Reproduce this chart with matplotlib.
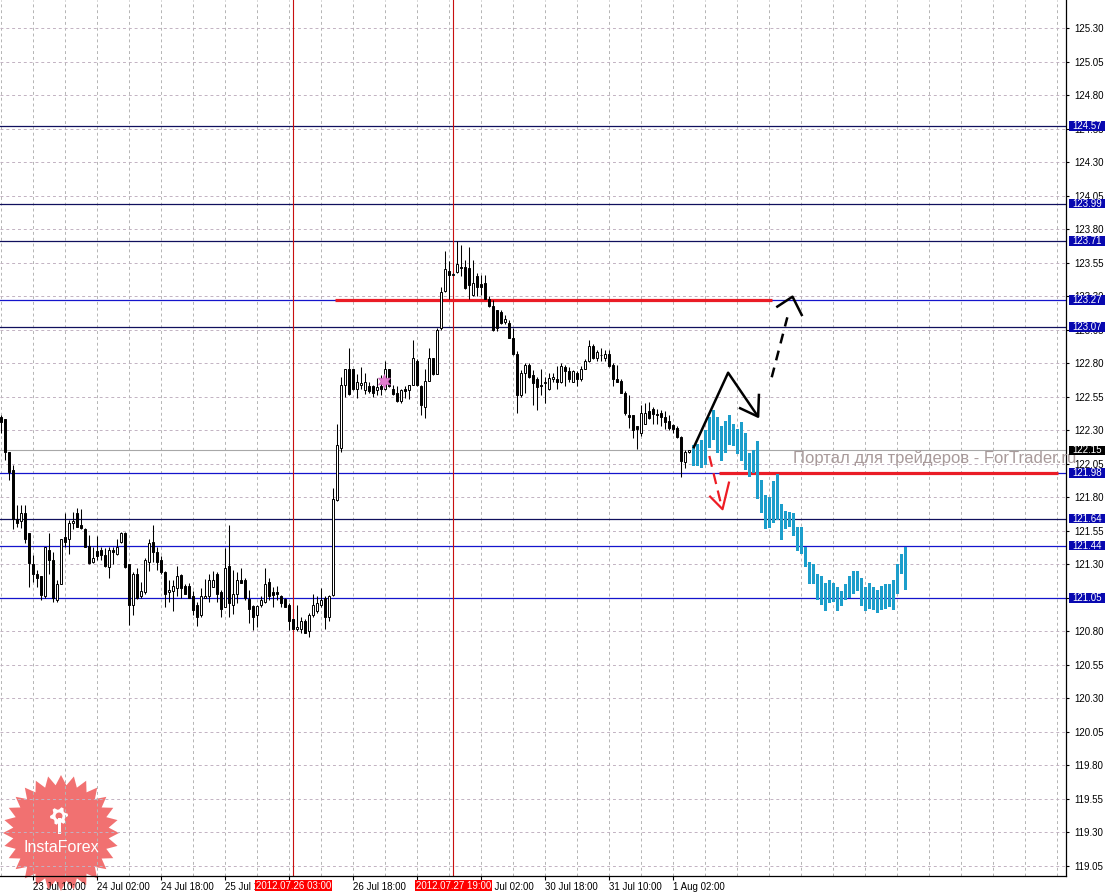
import matplotlib.pyplot as plt
import numpy as np
from matplotlib.patches import Rectangle, Polygon

plt.rcParams['font.family'] = ['Liberation Sans', 'DejaVu Sans']

# H1 candles, bar 0 = first visible bar on the left
opens = [122.40, 122.38, 122.14, 122.00, 121.64, 121.62, 121.68, 121.53, 121.30, 121.23,
         121.21, 121.06, 121.41, 121.33, 121.03, 121.15, 121.50, 121.49, 121.61, 121.68,
         121.59, 121.56, 121.44, 121.32, 121.40, 121.41, 121.37, 121.28, 121.41, 121.38,
         121.47, 121.53, 121.30, 121.00, 121.23, 121.06, 121.09, 121.32, 121.47, 121.39,
         121.33, 121.24, 121.09, 121.10, 121.12, 121.22, 121.14, 121.14, 121.06, 121.00,
         120.92, 121.05, 121.06, 121.13, 121.23, 121.09, 120.98, 121.29, 121.00, 121.08,
         121.18, 121.18, 121.04, 120.99, 120.92, 121.00, 121.02, 121.17, 121.09, 121.09,
         121.06, 121.04, 121.00, 120.89, 120.82, 120.82, 120.88, 120.80, 120.92, 120.95,
         121.00, 121.05, 120.91, 121.07, 121.78, 122.17, 122.64, 122.76, 122.76, 122.61,
         122.64, 122.60, 122.63, 122.63, 122.60, 122.63, 122.61, 122.76, 122.61, 122.58,
         122.52, 122.61, 122.60, 122.64, 122.82, 122.63, 122.47, 122.67, 122.84, 122.72,
         123.06, 123.34, 123.49, 123.46, 123.48, 123.52, 123.52, 123.51, 123.31, 123.45,
         123.39, 123.40, 123.28, 123.23, 123.20, 123.18, 123.11, 123.10, 122.99, 122.87,
         122.56, 122.73, 122.79, 122.71, 122.68, 122.64, 122.65, 122.61, 122.68, 122.68,
         122.66, 122.77, 122.74, 122.66, 122.73, 122.68, 122.76, 122.82, 122.93, 122.84,
         122.86, 122.84, 122.87, 122.79, 122.68, 122.67, 122.58, 122.41, 122.41, 122.33,
         122.28, 122.35, 122.44, 122.46, 122.42, 122.43, 122.40, 122.37, 122.34, 122.32,
         122.25, 122.06, 122.14]
highs = [122.41, 122.38, 122.14, 122.04, 121.74, 121.74, 121.74, 121.53, 121.37, 121.26,
         121.21, 121.43, 121.53, 121.39, 121.18, 121.49, 121.68, 121.63, 121.69, 121.72,
         121.71, 121.57, 121.52, 121.43, 121.51, 121.43, 121.42, 121.43, 121.43, 121.49,
         121.54, 121.54, 121.30, 121.24, 121.27, 121.17, 121.35, 121.49, 121.59, 121.43,
         121.36, 121.25, 121.18, 121.18, 121.29, 121.23, 121.15, 121.16, 121.10, 121.02,
         121.12, 121.19, 121.23, 121.25, 121.24, 121.11, 121.42, 121.59, 121.26, 121.24,
         121.27, 121.20, 121.11, 121.00, 121.00, 121.06, 121.27, 121.20, 121.13, 121.14,
         121.07, 121.05, 121.01, 120.89, 121.00, 120.91, 120.89, 120.94, 121.08, 121.06,
         121.12, 121.06, 121.07, 121.87, 122.35, 122.70, 122.76, 122.91, 122.76, 122.72,
         122.77, 122.73, 122.66, 122.64, 122.69, 122.71, 122.82, 122.76, 122.64, 122.63,
         122.61, 122.63, 122.64, 122.97, 122.83, 122.64, 122.76, 122.91, 122.84, 123.06,
         123.37, 123.64, 123.56, 123.47, 123.71, 123.68, 123.57, 123.67, 123.57, 123.47,
         123.46, 123.46, 123.30, 123.27, 123.20, 123.20, 123.16, 123.12, 123.06, 122.89,
         122.75, 122.80, 122.80, 122.75, 122.70, 122.76, 122.70, 122.73, 122.73, 122.78,
         122.80, 122.79, 122.77, 122.75, 122.74, 122.78, 122.83, 122.97, 122.94, 122.90,
         122.91, 122.90, 122.90, 122.80, 122.79, 122.68, 122.59, 122.56, 122.41, 122.33,
         122.49, 122.50, 122.51, 122.47, 122.46, 122.45, 122.44, 122.41, 122.35, 122.33,
         122.26, 122.15, 122.15]
lows = [122.28, 122.08, 121.93, 121.56, 121.58, 121.57, 121.46, 121.13, 121.17, 121.13,
        121.03, 121.05, 121.23, 121.02, 121.02, 121.15, 121.43, 121.38, 121.56, 121.58,
        121.56, 121.43, 121.30, 121.31, 121.33, 121.33, 121.28, 121.20, 121.30, 121.37,
        121.46, 121.27, 120.85, 120.92, 121.04, 121.05, 121.08, 121.25, 121.32, 121.26,
        121.23, 120.98, 121.02, 120.95, 121.06, 121.05, 121.08, 121.05, 120.92, 120.84,
        120.91, 121.05, 121.02, 121.13, 121.02, 120.91, 120.98, 120.91, 120.93, 121.01,
        121.16, 121.03, 120.86, 120.81, 120.83, 120.98, 121.01, 121.03, 120.98, 121.03,
        120.98, 120.98, 120.81, 120.82, 120.80, 120.79, 120.79, 120.76, 120.91, 120.94,
        120.98, 120.82, 120.88, 121.06, 121.77, 122.14, 122.55, 122.56, 122.60, 122.54,
        122.61, 122.57, 122.58, 122.55, 122.56, 122.56, 122.60, 122.62, 122.56, 122.51,
        122.50, 122.54, 122.53, 122.64, 122.63, 122.41, 122.39, 122.67, 122.71, 122.72,
        123.05, 123.33, 123.28, 123.46, 123.47, 123.45, 123.35, 123.28, 123.30, 123.30,
        123.31, 123.28, 123.22, 123.04, 123.04, 123.09, 123.09, 122.99, 122.86, 122.43,
        122.55, 122.58, 122.69, 122.49, 122.45, 122.56, 122.50, 122.60, 122.66, 122.61,
        122.65, 122.63, 122.66, 122.66, 122.63, 122.67, 122.76, 122.81, 122.83, 122.82,
        122.82, 122.82, 122.77, 122.63, 122.66, 122.58, 122.41, 122.32, 122.24, 122.16,
        122.26, 122.35, 122.38, 122.35, 122.35, 122.33, 122.31, 122.30, 122.28, 122.24,
        121.95, 122.02, 122.13]
closes = [122.36, 122.14, 121.99, 121.64, 121.61, 121.68, 121.49, 121.31, 121.23, 121.20,
          121.07, 121.43, 121.33, 121.05, 121.15, 121.49, 121.47, 121.61, 121.62, 121.58,
          121.57, 121.43, 121.31, 121.35, 121.36, 121.37, 121.29, 121.41, 121.39, 121.43,
          121.53, 121.28, 121.00, 121.23, 121.05, 121.10, 121.33, 121.46, 121.39, 121.32,
          121.24, 121.08, 121.11, 121.14, 121.21, 121.12, 121.08, 121.05, 120.96, 120.91,
          121.06, 121.06, 121.18, 121.18, 121.08, 120.97, 121.27, 121.01, 121.08, 121.18,
          121.16, 121.05, 120.97, 120.91, 120.99, 121.03, 121.15, 121.06, 121.07, 121.08,
          121.01, 120.98, 120.88, 120.82, 120.83, 120.88, 120.79, 120.92, 121.00, 121.01,
          121.03, 120.91, 121.06, 121.79, 122.19, 122.64, 122.76, 122.57, 122.61, 122.66,
          122.65, 122.66, 122.59, 122.58, 122.62, 122.61, 122.76, 122.63, 122.57, 122.52,
          122.60, 122.59, 122.64, 122.84, 122.64, 122.49, 122.67, 122.84, 122.72, 123.05,
          123.33, 123.50, 123.46, 123.46, 123.54, 123.51, 123.36, 123.38, 123.40, 123.37,
          123.37, 123.28, 123.23, 123.05, 123.06, 123.10, 123.13, 122.99, 122.87, 122.56,
          122.73, 122.79, 122.70, 122.65, 122.62, 122.63, 122.66, 122.69, 122.70, 122.66,
          122.78, 122.74, 122.68, 122.74, 122.68, 122.76, 122.82, 122.93, 122.84, 122.88,
          122.86, 122.87, 122.78, 122.68, 122.66, 122.58, 122.43, 122.40, 122.30, 122.31,
          122.43, 122.43, 122.39, 122.42, 122.41, 122.40, 122.36, 122.32, 122.31, 122.25,
          122.07, 122.14, 122.15]

# forecast bars (cyan), they start right after the last candle
fc_high = [122.19, 122.20, 122.23, 122.30, 122.40, 122.45, 122.40, 122.33, 122.37, 122.41,
           122.35, 122.31, 122.36, 122.28, 122.13, 122.15, 122.22, 121.93, 121.82, 121.80,
           121.92, 121.97, 121.75, 121.70, 121.69, 121.68, 121.58, 121.58, 121.43, 121.32,
           121.30, 121.23, 121.21, 121.16, 121.18, 121.16, 121.13, 121.10, 121.15, 121.21,
           121.25, 121.25, 121.20, 121.13, 121.16, 121.13, 121.11, 121.14, 121.15, 121.15,
           121.18, 121.30, 121.38, 121.43]
fc_low = [122.03, 122.03, 122.02, 122.04, 122.17, 122.23, 122.13, 122.07, 122.13, 122.19,
          122.18, 122.12, 122.07, 122.00, 121.95, 121.98, 121.79, 121.68, 121.56, 121.57,
          121.61, 121.63, 121.48, 121.56, 121.58, 121.51, 121.40, 121.38, 121.28, 121.15,
          121.15, 121.03, 121.00, 120.95, 121.01, 121.02, 120.95, 120.99, 121.03, 121.05,
          121.08, 121.10, 120.99, 120.95, 120.97, 120.96, 120.94, 120.96, 120.97, 120.98,
          120.96, 121.08, 121.23, 121.11]

# labels hidden under the red date boxes are left empty
x_tick_bars = [8, 24, 40, 56, 72, 88, 104, 120, 136, 152, 168]
x_tick_labels = ['23 Jul 10:00', '24 Jul 02:00', '24 Jul 18:00', '25 Jul 10:00', '',
                 '26 Jul 18:00', '', '30 Jul 02:00', '30 Jul 18:00', '31 Jul 10:00',
                 '1 Aug 02:00']

levels = [124.57, 123.99, 123.71, 123.27, 123.07, 121.98, 121.64, 121.44, 121.05]
level_dark = [True, True, True, False, True, False, True, False, False]
bid = 122.15

sep_bars = [73, 113]
sep_labels = ['2012.07.26 03:00', '2012.07.27 19:00']

# thick red resistance/support segments: price, start bar, end bar
red_segments = [(123.27, 83.4, 192.6), (121.98, 179.5, 264.2)]

# hand drawn arrows (bar, price)
black_path_x = [173.0, 181.7, 189.2]
black_path_y = [122.165, 122.729, 122.401]
black_head_x = [184.7, 189.2, 189.4]
black_head_y = [122.464, 122.401, 122.563]
dash_path_x = [192.6, 196.5]
dash_path_y = [122.695, 123.142]
dash_head_x = [194.0, 197.8, 200.1]
dash_head_y = [123.222, 123.296, 123.160]
red_path_x = [177.0, 180.0]
red_path_y = [122.108, 121.74]
red_head_x = [177.2, 180.3, 181.9]
red_head_y = [121.805, 121.711, 121.909]
star_bar, star_price = 95.7, 122.667

W, H = 1109, 894
fig = plt.figure(figsize=(W / 100, H / 100), dpi=100)
fig.patch.set_facecolor('white')
ax = fig.add_axes([0, 18 / H, 1066 / W, 876 / H])
ax.set_xlim(-0.333, 266.17)
ax.set_ylim(118.975, 125.509)

# grid
ax.set_xticks(x_tick_bars)
ax.set_xticklabels(x_tick_labels)
ax.set_xticks(np.arange(0, 267, 8), minor=True)
ax.grid(True, which='both', axis='x', color='#b4b4b4', ls=(0, (3, 3)), lw=0.7)
yt = np.round(np.arange(119.05, 125.31, 0.25), 2)
ax.set_yticks(yt)
ax.set_yticklabels(['%.2f' % v for v in yt])
ax.grid(True, which='major', axis='y', color='#c2b2c2', ls=(0, (3, 3)), lw=0.7)

ax.yaxis.tick_right()
ax.tick_params(axis='y', length=2.5, width=0.8, pad=3.5, labelsize=7)
ax.tick_params(axis='x', which='major', length=3, width=0.8, pad=1.5, labelsize=7)
ax.tick_params(axis='x', which='minor', length=0)
for lab in ax.get_xticklabels():
    lab.set_ha('left')
for s in ['top', 'left']:
    ax.spines[s].set_visible(False)
for s in ['right', 'bottom']:
    ax.spines[s].set_linewidth(0.9)

# level lines
for lv, dark in zip(levels, level_dark):
    ax.axhline(lv, color='#10105e' if dark else '#1414cc', lw=0.9, zorder=2)
ax.axhline(bid, color='#a8a8a8', lw=0.8, zorder=2)
for b in sep_bars:
    ax.axvline(b, color='#c81010', lw=0.8, zorder=2)

for p, x0, x1 in red_segments:
    ax.hlines(p, x0, x1, color='#ea1c26', lw=2.3, zorder=3)

# candles
o, hi, lo, c = map(np.array, (opens, highs, lows, closes))
x = np.arange(len(o))
ax.vlines(x, lo, hi, color='black', lw=0.75, zorder=4)
up = c >= o
body = np.maximum(np.abs(c - o), 0.004)
bottom = np.minimum(o, c)
ax.bar(x[up], body[up], bottom=bottom[up], width=0.5, color='white',
       edgecolor='black', lw=0.7, zorder=5)
ax.bar(x[~up], body[~up], bottom=bottom[~up], width=0.5, color='black',
       edgecolor='black', lw=0.7, zorder=5)

# forecast
fh, fl = np.array(fc_high), np.array(fc_low)
xf = np.arange(len(o), len(o) + len(fh))
ax.bar(xf, fh - fl, bottom=fl, width=0.62, color='#1c9ecb', zorder=4)

# arrows
ax.plot(black_path_x, black_path_y, color='black', lw=1.8, zorder=6, solid_capstyle='butt')
ax.plot(black_head_x, black_head_y, color='black', lw=1.8, zorder=6)
ax.plot(dash_path_x, dash_path_y, color='black', lw=1.8, ls=(0, (4, 3)), zorder=6)
ax.plot(dash_head_x, dash_head_y, color='black', lw=1.8, zorder=6)
ax.plot(red_path_x, red_path_y, color='#ee1c24', lw=1.6, ls=(0, (5, 3)), zorder=6)
ax.plot(red_head_x, red_head_y, color='#ee1c24', lw=1.6, zorder=6)
ax.plot(star_bar, star_price, marker=(6, 1, 0), ms=10, color='#e27ccf', mec='#c860b8',
        mew=0.5, zorder=6)

# watermark
ax.text(197.9, 122.093, 'Портал для трейдеров - ForTrader.ru', fontsize=12,
        color='#a89a9a', va='center', ha='left', zorder=3, clip_on=False)

# price labels on the right axis
ytr = ax.get_yaxis_transform()
bw, bh = 36 / 1066, 0.07
for lv in levels:
    ax.add_patch(Rectangle((1.0028, lv - bh / 2), bw, bh, transform=ytr,
                           facecolor='#0808b0', edgecolor='none', clip_on=False, zorder=8))
    ax.text(1.0028 + bw / 2, lv, '%.2f' % lv, transform=ytr, ha='center', va='center',
            color='white', fontsize=7, clip_on=False, zorder=9)
ax.add_patch(Rectangle((1.0028, bid - bh / 2), bw, bh, transform=ytr,
                       facecolor='black', edgecolor='none', clip_on=False, zorder=8))
ax.text(1.0028 + bw / 2, bid, '%.2f' % bid, transform=ytr, ha='center', va='center',
        color='white', fontsize=7, clip_on=False, zorder=9)

# date labels for the vertical lines
xtr = ax.get_xaxis_transform()
for b, s in zip(sep_bars, sep_labels):
    ax.add_patch(Rectangle((b - 9.6, -0.0176), 19.2, 0.013, transform=xtr,
                           facecolor='#ff0000', edgecolor='none', clip_on=False, zorder=8))
    ax.text(b, -0.0111, s, transform=xtr, ha='center', va='center', color='white',
            fontsize=7, clip_on=False, zorder=9)

# InstaForex logo (pixel layout converted to figure fraction)
cx, cy, r_out, r_in, n = 61, 833, 58, 48, 28
ang = np.linspace(0, 2 * np.pi, 2 * n, endpoint=False) + np.pi / 2
rad = np.where(np.arange(2 * n) % 2 == 0, r_out, r_in)
px = cx + rad * np.cos(ang)
py = cy - rad * np.sin(ang)
ax.add_patch(Polygon(np.c_[px / W, 1 - py / H], closed=True, transform=fig.transFigure,
                     facecolor='#ef5858', edgecolor='none', alpha=0.85, clip_on=False,
                     zorder=1.2))
gx, gy = 59, 816
gang = np.linspace(0, 2 * np.pi, 24, endpoint=False)
grad = np.where((np.arange(24) // 2) % 2 == 0, 9, 6.5)
ax.add_patch(Polygon(np.c_[(gx + grad * np.cos(gang)) / W, 1 - (gy - grad * np.sin(gang)) / H],
                     closed=True, transform=fig.transFigure, facecolor='white',
                     edgecolor='none', clip_on=False, zorder=1.3))
hang = np.linspace(0, 2 * np.pi, 20, endpoint=False)
ax.add_patch(Polygon(np.c_[(gx + 3.5 * np.cos(hang)) / W, 1 - (gy - 3.5 * np.sin(hang)) / H],
                     closed=True, transform=fig.transFigure, facecolor='#f07070',
                     edgecolor='none', clip_on=False, zorder=1.35))
ax.add_patch(Rectangle(((gx - 1.5) / W, 1 - 834 / H), 3 / W, 16 / H, transform=fig.transFigure,
                       facecolor='white', edgecolor='none', clip_on=False, zorder=1.4))
fig.text(cx / W, 1 - 847 / H, 'InstaForex', color='white', fontsize=11.5,
         ha='center', va='center', zorder=0.5)

fig.savefig('out.png', dpi=100)
